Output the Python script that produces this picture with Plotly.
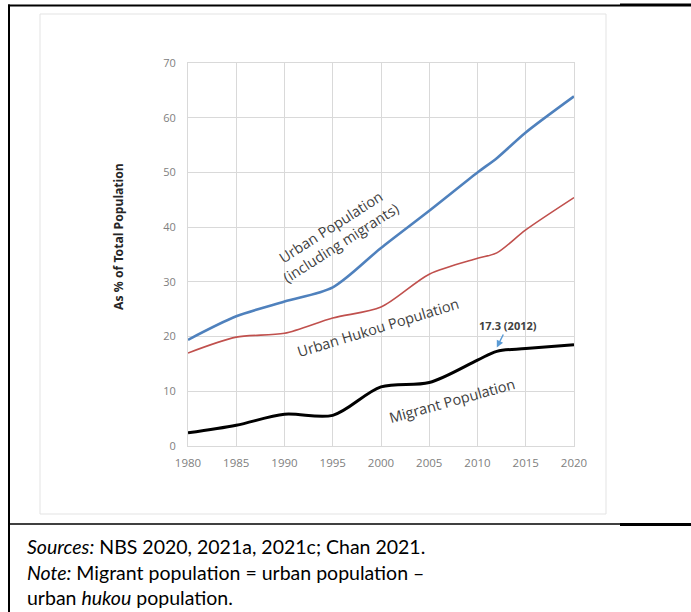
import plotly.graph_objects as go

years = [1980, 1985, 1990, 1995, 2000, 2005, 2010, 2012, 2015, 2020]
urban = [19.4, 23.7, 26.4, 29.0, 36.2, 43.0, 50.0, 52.6, 57.3, 63.9]
hukou = [17.0, 19.9, 20.6, 23.4, 25.4, 31.4, 34.3, 35.3, 39.5, 45.4]
migrant = [2.4, 3.8, 5.8, 5.6, 10.8, 11.6, 15.7, 17.3, 17.8, 18.5]

x_ticks = [1980, 1985, 1990, 1995, 2000, 2005, 2010, 2015, 2020]
y_ticks = [0, 10, 20, 30, 40, 50, 60, 70]

W, H = 691, 612
L, R, T, B = 188, 574, 63, 446


def px(p):
    return (p - L) / (R - L)


def py(p):
    return (B - p) / (B - T)


fig = go.Figure()
fig.add_trace(go.Scatter(x=years, y=urban, mode="lines",
                         line=dict(color="#4F81BD", width=2.6, shape="spline", smoothing=0.8),
                         hoverinfo="skip"))
fig.add_trace(go.Scatter(x=years, y=hukou, mode="lines",
                         line=dict(color="#C0504D", width=1.6, shape="spline", smoothing=0.8),
                         hoverinfo="skip"))
fig.add_trace(go.Scatter(x=years, y=migrant, mode="lines",
                         line=dict(color="#000000", width=3, shape="spline", smoothing=0.9),
                         hoverinfo="skip"))

label_font = dict(family="Open Sans", size=14.5, color="#404040")
annotations = [
    dict(x=1995.3, y=38.6, xref="x", yref="y", text="Urban Population<br>(including migrants)",
         textangle=-32.6, showarrow=False, font=label_font, xanchor="center", yanchor="middle"),
    dict(x=1999.7, y=21.7, xref="x", yref="y", text="Urban Hukou Population",
         textangle=-17, showarrow=False, font=label_font, xanchor="center", yanchor="middle"),
    dict(x=2007.4, y=8.4, xref="x", yref="y", text="Migrant Population",
         textangle=-15.5, showarrow=False, font=label_font, xanchor="center", yanchor="middle"),
    dict(x=2012, y=18.0, xref="x", yref="y", text="<b>17.3 (2012)</b>",
         showarrow=True, arrowhead=2, arrowsize=1, arrowwidth=1.4, arrowcolor="#5B9BD5",
         ax=11, ay=-22, font=dict(family="Open Sans", size=11, color="#404040")),
    dict(x=px(118), y=py(237), xref="paper", yref="paper", text="<b>As % of Total Population</b>",
         textangle=-90, showarrow=False, xanchor="center", yanchor="middle",
         font=dict(family="Noto Sans", size=12.2, color="#262626")),
]

notes = [
    ("<i>Sources:</i> NBS 2020, 2021a, 2021c; Chan 2021.", 546),
    ("<i>Note:</i> Migrant population = urban population –", 572),
    ("urban <i>hukou</i> population.", 597),
]
for txt, yy in notes:
    annotations.append(dict(x=px(25), y=py(yy), xref="paper", yref="paper", text=txt,
                            xanchor="left", yanchor="middle", showarrow=False,
                            font=dict(family="Lato", size=19.5, color="#000000")))

shapes = [
    # inner chart frame
    dict(type="rect", xref="paper", yref="paper", x0=px(40), x1=px(606), y0=py(14), y1=py(514),
         line=dict(color="#e3e3e3", width=1), layer="below"),
    # outer black frame
    dict(type="line", xref="paper", yref="paper", x0=px(9), x1=px(9), y0=py(4.5), y1=py(613),
         line=dict(color="#000000", width=2)),
    dict(type="line", xref="paper", yref="paper", x0=px(8), x1=px(620), y0=py(5.5), y1=py(5.5),
         line=dict(color="#000000", width=1.8)),
    dict(type="line", xref="paper", yref="paper", x0=px(620), x1=px(692), y0=py(5), y1=py(5),
         line=dict(color="#000000", width=3)),
    dict(type="line", xref="paper", yref="paper", x0=px(9), x1=px(620), y0=py(524), y1=py(524),
         line=dict(color="#000000", width=1.6)),
    dict(type="line", xref="paper", yref="paper", x0=px(620), x1=px(692), y0=py(524.5), y1=py(524.5),
         line=dict(color="#000000", width=3)),
]

fig.update_layout(
    width=W, height=H,
    margin=dict(l=L, r=W - R, t=T, b=H - B, pad=0),
    paper_bgcolor="white", plot_bgcolor="white",
    showlegend=False,
    annotations=annotations,
    shapes=shapes,
    xaxis=dict(range=[1980, 2020], tickvals=x_ticks, ticktext=[str(v) for v in x_ticks],
               showgrid=True, gridcolor="#d9d9d9", gridwidth=1, zeroline=False,
               showline=True, linecolor="#d9d9d9", linewidth=1, mirror=True,
               ticks="outside", ticklen=6, tickcolor="rgba(0,0,0,0)",
               tickfont=dict(family="Open Sans", size=11.5, color="#808080"),
               fixedrange=True),
    yaxis=dict(range=[0, 70], tickvals=y_ticks, ticktext=[str(v) for v in y_ticks],
               showgrid=True, gridcolor="#d9d9d9", gridwidth=1, zeroline=False,
               showline=True, linecolor="#d9d9d9", linewidth=1, mirror=True,
               ticks="outside", ticklen=9, tickcolor="rgba(0,0,0,0)",
               tickfont=dict(family="Open Sans", size=11, color="#808080"),
               fixedrange=True),
)

fig.write_html("out.html", config={"displayModeBar": False},
               post_script="document.body.style.margin='0px';document.body.style.overflow='hidden';")
